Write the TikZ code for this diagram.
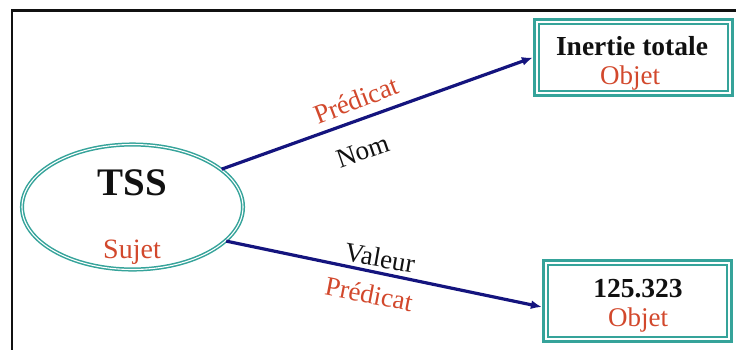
\documentclass[tikz,border=0pt]{standalone}
\usepackage{fontspec}
\setmainfont{Liberation Serif}
\usetikzlibrary{arrows.meta,shapes.geometric}
\definecolor{Teal}{HTML}{35A39A}
\definecolor{Brick}{HTML}{D2482C}
\definecolor{Navy}{HTML}{14147E}
\definecolor{Ink}{HTML}{111111}
\newcommand{\fsz}[1]{\fontsize{#1}{#1}\selectfont}

\begin{document}
\begin{tikzpicture}[x=1pt,y=-1pt]
  \useasboundingbox (0,0) rectangle (736,349);
  \draw[Ink,line width=2.4pt] (12,355) -- (12,10.3) -- (745,10.3);
  % subject
  \node[ellipse,draw=Teal,double=white,line width=1.5pt,double distance=1.1pt,
        minimum width=221pt,minimum height=125pt,inner sep=0pt] (tss) at (132.5,207) {};
  \node[font=\bfseries\fsz{39},Ink,anchor=base] (tssname) at (132,195) {TSS};
  \node[font=\fsz{28},Brick,anchor=base] (sujet) at (132,258) {Sujet};
  % objects
  \node[draw=Teal,line width=3.2pt,minimum width=198pt,minimum height=76pt] (inertie) at (633.5,57.5) {};
  \node[draw=Teal,line width=3.2pt,minimum width=188pt,minimum height=81pt] (valeur) at (637.5,301) {};
  \foreach \b in {inertie,valeur} {
    \draw[Teal,line width=1.8pt] ([shift={(6,6)}]\b.north west) rectangle ([shift={(-6,-6)}]\b.south east);
  }
  \node[font=\bfseries\fsz{27.5},Ink,anchor=base] (inertiename) at (632,55) {Inertie totale};
  \node[font=\fsz{27},Brick,anchor=base] (objet1) at (630,84) {Objet};
  \node[font=\bfseries\fsz{27.5},Ink,anchor=base] (valeurname) at (638,297) {125.323};
  \node[font=\fsz{27},Brick,anchor=base] (objet2) at (638,326) {Objet};
  % predicates
  \draw[Navy,line width=3.2pt,-{Latex[length=11pt,width=9pt]}] (tss.23) -- (inertie.west);
  \draw[Navy,line width=3.2pt,-{Latex[length=11pt,width=9pt]}] (tss.-20) -- ([yshift=-6pt]valeur.west);
  \node[font=\fsz{27},Brick,rotate=21] (pred1) at (356,100) {Prédicat};
  \node[font=\fsz{27},Ink,rotate=19] (nom) at (363,151) {Nom};
  \node[font=\fsz{27},Ink,rotate=-10] (val) at (380,258) {Valeur};
  \node[font=\fsz{27},Brick,rotate=-11] (pred2) at (369,294) {Prédicat};
\end{tikzpicture}
\end{document}
